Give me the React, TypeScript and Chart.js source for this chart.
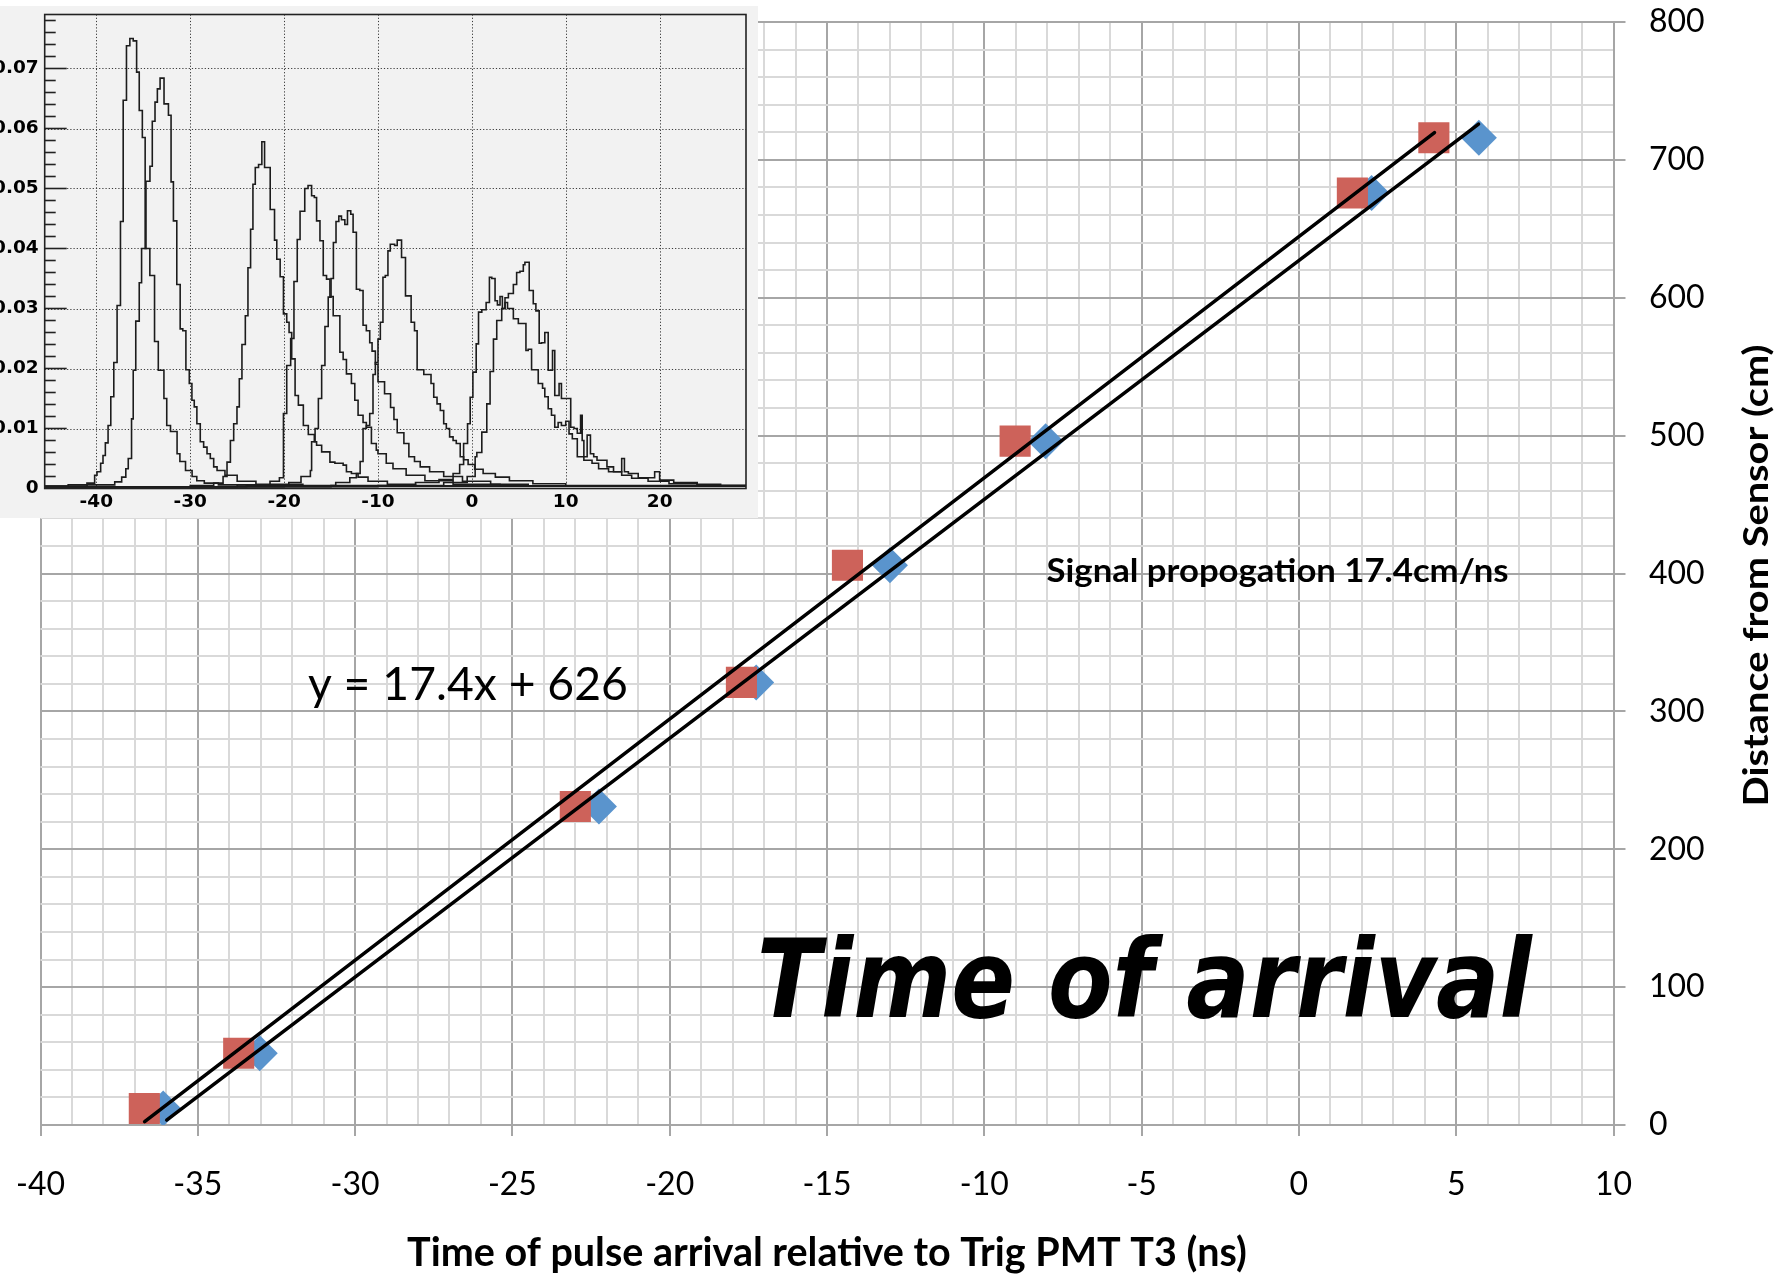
import React, { useEffect, useRef } from 'react';
import { Chart, registerables } from 'chart.js';

Chart.register(...registerables);

// ---------------- main chart data ----------------
const distanceCm = [12, 52, 231, 321, 406, 496, 676, 716];
const redTimesNs = [-36.7, -33.7, -23.0, -17.72, -14.35, -9.02, 1.7, 4.29];
const blueTimesNs = [-36.1, -33.03, -22.25, -17.25, -13.0, -8.05, 2.31, 5.72];
const redFitX = [-36.69, 4.31];
const redFitY = [2.4, 719.8];
const blueFitX = [-35.99, 5.71];
const blueFitY = [3.6, 725.9];
const xTickLabels = [-40, -35, -30, -25, -20, -15, -10, -5, 0, 5, 10];
const yTickLabels = [0, 100, 200, 300, 400, 500, 600, 700, 800];
const xTitle = 'Time of pulse arrival relative to Trig PMT T3 (ns)';
const yTitle = 'Distance from Sensor (cm)';
const fitLabel = 'y = 17.4x + 626';
const speedLabel = 'Signal propogation 17.4cm/ns';
const bigLabel = 'Time of arrival';

// ---------------- inset histogram data: [left bin edge (ns), content] ----------------
const insetXTickLabels = [-40, -30, -20, -10, 0, 10, 20];
const insetYTickLabels = [0, 0.01, 0.02, 0.03, 0.04, 0.05, 0.06, 0.07];

const histA: [number, number][] = [[-45.5,0.0004],[-43.0,0.0006],[-41.0,0.0009],[-40.18,0.0022],[-39.93,0.0028],[-39.54,0.0042],[-39.29,0.0055],[-39.04,0.0076],[-38.75,0.0105],[-38.46,0.0153],[-38.14,0.021],[-37.79,0.0305],[-37.43,0.0445],[-37.14,0.0647],[-36.79,0.0738],[-36.43,0.075],[-36.07,0.0746],[-35.71,0.0694],[-35.43,0.063],[-35.1,0.0585],[-34.8,0.04],[-34.3,0.0355],[-33.8,0.0245],[-33.4,0.0197],[-32.8,0.015],[-32.5,0.0105],[-32.1,0.0095],[-31.4,0.0058],[-31.1,0.0045],[-30.5,0.003],[-29.8,0.002],[-29.3,0.0013],[-28.5,0.0009],[-27.0,0.0006],[-24.0,0.0004],[29.2,0.0004]];
const histB: [number, number][] = [[-45.5,0.0004],[-41.0,0.0006],[-38.04,0.0011],[-37.3,0.0019],[-36.86,0.0033],[-36.6,0.005],[-36.25,0.0116],[-36.07,0.0197],[-35.8,0.0279],[-35.43,0.0343],[-35.18,0.04],[-34.71,0.0512],[-34.29,0.0537],[-34.04,0.0612],[-33.75,0.0644],[-33.5,0.0666],[-33.21,0.0684],[-32.79,0.0641],[-32.32,0.0622],[-32.04,0.0511],[-31.79,0.0446],[-31.43,0.034],[-31.07,0.0266],[-30.79,0.0263],[-30.46,0.0198],[-30.1,0.0175],[-29.82,0.0147],[-29.57,0.0136],[-29.29,0.0108],[-28.93,0.0078],[-28.57,0.0069],[-28.21,0.0058],[-27.86,0.005],[-27.5,0.0036],[-27.14,0.003],[-26.3,0.0022],[-25.0,0.0012],[-23.0,0.0007],[-18.0,0.0004],[29.2,0.0004]];
const histC: [number, number][] = [[-45.5,0.0003],[-30.0,0.0005],[-27.5,0.0009],[-26.5,0.002],[-26.08,0.0044],[-25.72,0.008],[-25.37,0.0108],[-25.02,0.0136],[-24.77,0.0183],[-24.49,0.024],[-24.13,0.0288],[-23.85,0.0368],[-23.57,0.0432],[-23.32,0.0507],[-23.07,0.0535],[-22.72,0.054],[-22.37,0.0578],[-22.08,0.0535],[-21.48,0.0465],[-21.02,0.0414],[-20.78,0.0382],[-20.42,0.0353],[-20.07,0.0291],[-19.72,0.0277],[-19.47,0.026],[-19.19,0.0216],[-18.83,0.0155],[-18.48,0.0139],[-17.95,0.0105],[-17.42,0.009],[-16.78,0.0078],[-16.54,0.0072],[-16.0,0.0061],[-15.12,0.0044],[-14.59,0.0042],[-13.71,0.0039],[-13.36,0.0028],[-12.83,0.0025],[-12.12,0.0019],[-11.06,0.0012],[-9.0,0.0007],[-6.0,0.0004],[29.2,0.0004]];
const histD: [number, number][] = [[-45.5,0.0003],[-25.0,0.0006],[-21.5,0.0012],[-20.5,0.0018],[-20.07,0.0125],[-19.72,0.0205],[-19.3,0.025],[-18.95,0.0345],[-18.6,0.0415],[-18.3,0.0462],[-17.8,0.05],[-17.45,0.0505],[-17.07,0.0488],[-16.78,0.0485],[-16.54,0.0446],[-16.18,0.0413],[-15.83,0.0355],[-15.48,0.0349],[-15.12,0.032],[-14.77,0.0288],[-14.06,0.0227],[-13.71,0.0215],[-13.36,0.0191],[-12.83,0.0175],[-12.47,0.0147],[-12.12,0.0122],[-11.59,0.011],[-11.24,0.0102],[-10.7,0.0075],[-10.18,0.0064],[-10.0,0.0058],[-9.12,0.0042],[-8.4,0.0033],[-7.0,0.0022],[-5.0,0.0013],[-2.0,0.0007],[3.0,0.0004],[29.2,0.0004]];
const histE: [number, number][] = [[-45.5,0.0003],[-24.0,0.0005],[-19.5,0.001],[-18.2,0.002],[-17.2,0.003],[-17.07,0.0078],[-16.7,0.01],[-16.35,0.015],[-16.0,0.0205],[-15.65,0.027],[-15.3,0.0319],[-15.0,0.035],[-14.75,0.041],[-14.47,0.0445],[-14.17,0.0454],[-13.89,0.0448],[-13.53,0.044],[-13.25,0.0463],[-12.9,0.0457],[-12.65,0.0427],[-12.3,0.0332],[-11.94,0.033],[-11.59,0.0272],[-11.24,0.0263],[-10.88,0.0243],[-10.63,0.0229],[-10.28,0.0207],[-10.0,0.0178],[-9.3,0.0158],[-8.66,0.0135],[-8.3,0.0115],[-7.95,0.0093],[-7.24,0.0075],[-6.71,0.0053],[-6.11,0.0045],[-5.5,0.0036],[-4.5,0.0028],[-3.0,0.002],[-1.0,0.0012],[2.0,0.0007],[6.0,0.0004],[29.2,0.0004]];
const histF: [number, number][] = [[-45.5,0.0003],[-20.0,0.0005],[-14.5,0.001],[-13.0,0.0018],[-12.3,0.0025],[-11.9,0.0045],[-11.59,0.01],[-11.24,0.0105],[-10.88,0.0125],[-10.53,0.019],[-10.28,0.021],[-10.0,0.0249],[-9.75,0.0277],[-9.47,0.0352],[-9.22,0.0355],[-8.94,0.0396],[-8.69,0.0407],[-8.23,0.0405],[-7.95,0.0414],[-7.49,0.0385],[-7.07,0.0321],[-6.47,0.0277],[-6.11,0.0263],[-5.83,0.0198],[-5.12,0.019],[-4.35,0.0175],[-4.06,0.0152],[-3.71,0.0141],[-3.36,0.013],[-3.0,0.0108],[-2.72,0.01],[-2.37,0.0086],[-2.0,0.008],[-1.66,0.0075],[-1.24,0.0053],[-0.88,0.0048],[-0.4,0.004],[0.3,0.0032],[1.2,0.0025],[2.5,0.0019],[4.0,0.0013],[6.5,0.0008],[10.0,0.0005],[29.2,0.0005]];
const histG: [number, number][] = [[-45.5,0.0003],[-15.0,0.0005],[-6.0,0.001],[-3.5,0.0015],[-2.0,0.0025],[-1.3,0.004],[-0.88,0.0075],[-0.46,0.0108],[-0.18,0.0152],[0.11,0.0194],[0.46,0.0241],[0.71,0.0294],[1.06,0.0298],[1.52,0.031],[1.87,0.0352],[2.12,0.035],[2.47,0.0313],[2.72,0.0306],[3.0,0.032],[3.25,0.03],[3.53,0.031],[3.8,0.03],[4.42,0.0283],[4.95,0.0275],[5.19,0.0275],[5.76,0.023],[6.0,0.0232],[6.36,0.0198],[6.61,0.0198],[7.07,0.0175],[7.53,0.0167],[7.77,0.0153],[8.13,0.0133],[8.48,0.0122],[8.83,0.0102],[9.19,0.011],[9.54,0.0105],[10.0,0.0112],[10.35,0.0091],[10.7,0.0083],[11.23,0.0053],[11.93,0.0047],[12.8,0.0042],[13.5,0.0033],[14.56,0.0028],[15.96,0.0022],[17.02,0.0017],[18.77,0.0012],[21.0,0.0008],[24.0,0.0005],[29.2,0.0005]];
const histH: [number, number][] = [[-45.5,0.0003],[-10.0,0.0005],[-3.0,0.001],[-0.5,0.002],[0.35,0.0053],[0.53,0.006],[1.06,0.0094],[1.59,0.0141],[1.94,0.0195],[2.3,0.0249],[2.65,0.028],[3.18,0.03],[3.53,0.0318],[3.89,0.0325],[4.42,0.034],[4.77,0.036],[5.12,0.0362],[5.48,0.0373],[5.65,0.0377],[6.11,0.033],[6.54,0.0308],[6.82,0.0296],[7.17,0.0242],[7.42,0.0243],[7.77,0.026],[8.13,0.0197],[8.59,0.023],[8.83,0.0155],[9.29,0.0175],[9.54,0.015],[10.0,0.015],[10.53,0.0102],[10.88,0.01],[11.23,0.0092],[11.58,0.0122],[11.75,0.008],[11.93,0.0053],[12.28,0.0089],[12.63,0.0058],[12.98,0.0053],[13.33,0.0047],[14.39,0.0036],[15.09,0.0028],[15.96,0.005],[16.25,0.0028],[16.67,0.0025],[17.72,0.0018],[19.47,0.0028],[20.0,0.0014],[21.5,0.001],[24.0,0.0007],[26.5,0.0005],[29.2,0.0005]];
const histograms = [histA, histB, histC, histD, histE, histF, histG, histH];

// ---------------- styles ----------------
const RED = 'rgb(205, 98, 90)';
const BLUE = 'rgb(90, 148, 205)';
const MAJOR_GRID = '#a6a6a6';
const MINOR_GRID = '#d9d9d9';
const LATO = 'Lato, "Open Sans", sans-serif';
const INSET_FONT = '"DejaVu Sans", sans-serif';

function isMultiple(v: number, step: number) {
  const r = v / step;
  return Math.abs(r - Math.round(r)) < 1e-6;
}

function drawFitted(ctx: CanvasRenderingContext2D, text: string, x: number, yBase: number, font: string, width: number) {
  ctx.save();
  ctx.font = font;
  ctx.textAlign = 'left';
  ctx.textBaseline = 'alphabetic';
  const w = ctx.measureText(text).width;
  ctx.translate(x, yBase);
  ctx.scale(width / w, 1);
  ctx.fillText(text, 0, 0);
  ctx.restore();
}

const annotationPlugin = {
  id: 'annotationTexts',
  afterDraw(chart: any) {
    const { ctx, scales, chartArea } = chart;
    const xs = scales.x;
    const ys = scales.y;
    ctx.save();
    ctx.fillStyle = '#000';
    drawFitted(ctx, fitLabel, xs.getPixelForValue(-31.5), ys.getPixelForValue(308), `46px ${LATO}`, 320);
    drawFitted(ctx, speedLabel, xs.getPixelForValue(-8.02), ys.getPixelForValue(393.7), `bold 33px ${LATO}`, 462);
    drawFitted(ctx, bigLabel, xs.getPixelForValue(-17.23), ys.getPixelForValue(78.3), 'italic bold 108px "DejaVu Sans", sans-serif', 775);
    // rotated y-axis title (reads bottom to top)
    ctx.save();
    ctx.font = `bold 34px ${LATO}`;
    const w = ctx.measureText(yTitle).width;
    ctx.translate(chartArea.right + 143.5, (chartArea.top + chartArea.bottom) / 2 + 2);
    ctx.rotate(-Math.PI / 2);
    ctx.scale(462 / w, 1);
    ctx.textAlign = 'center';
    ctx.textBaseline = 'middle';
    ctx.fillText(yTitle, 0, 0);
    ctx.restore();
    ctx.restore();
  },
};

const insetPlugin = {
  id: 'insetFrame',
  beforeDraw(chart: any) {
    const { ctx, width, height } = chart;
    ctx.save();
    ctx.fillStyle = '#f2f2f2';
    ctx.fillRect(0, 0, width, height);
    ctx.restore();
  },
  beforeDatasetsDraw(chart: any) {
    const { ctx, chartArea: a, scales } = chart;
    const xs = scales.x;
    const ys = scales.y;
    ctx.save();
    ctx.strokeStyle = '#3a3a3a';
    ctx.lineWidth = 1;
    ctx.setLineDash([1.2, 2]);
    insetXTickLabels.forEach((v) => {
      const px = Math.round(xs.getPixelForValue(v)) + 0.5;
      ctx.beginPath();
      ctx.moveTo(px, a.top);
      ctx.lineTo(px, a.bottom);
      ctx.stroke();
    });
    insetYTickLabels.forEach((v) => {
      if (v === 0) return;
      const py = Math.round(ys.getPixelForValue(v)) + 0.5;
      ctx.beginPath();
      ctx.moveTo(a.left, py);
      ctx.lineTo(a.right, py);
      ctx.stroke();
    });
    ctx.setLineDash([]);
    ctx.strokeStyle = '#222';
    ctx.lineWidth = 1.6;
    for (let k = 1; k * 0.002 < ys.max; k++) {
      const py = ys.getPixelForValue(k * 0.002);
      const len = k % 5 === 0 ? 22 : 11;
      ctx.beginPath();
      ctx.moveTo(a.left, py);
      ctx.lineTo(a.left + len, py);
      ctx.stroke();
    }
    ctx.restore();
  },
  afterDatasetsDraw(chart: any) {
    const { ctx, chartArea: a } = chart;
    ctx.save();
    ctx.strokeStyle = '#222';
    ctx.lineWidth = 1.6;
    ctx.strokeRect(a.left, a.top, a.right - a.left, a.bottom - a.top);
    ctx.restore();
  },
};

export default function App() {
  const mainRef = useRef<HTMLCanvasElement>(null);
  const insetRef = useRef<HTMLCanvasElement>(null);

  useEffect(() => {
    const gridColor = (ctx: any) => (isMultiple(ctx.tick.value, ctx.scale.axis === 'x' ? 5 : 100) ? MAJOR_GRID : MINOR_GRID);
    const tickColor = (ctx: any) => (isMultiple(ctx.tick.value, ctx.scale.axis === 'x' ? 5 : 100) ? MAJOR_GRID : 'rgba(0,0,0,0)');

    const main = new Chart(mainRef.current as HTMLCanvasElement, {
      type: 'scatter',
      data: {
        datasets: [
          {
            label: 'fit 1',
            data: redFitX.map((x, i) => ({ x, y: redFitY[i] })),
            showLine: true,
            borderColor: '#000',
            borderWidth: 3.5,
            borderCapStyle: 'round',
            pointRadius: 0,
          },
          {
            label: 'fit 2',
            data: blueFitX.map((x, i) => ({ x, y: blueFitY[i] })),
            showLine: true,
            borderColor: '#000',
            borderWidth: 3.5,
            borderCapStyle: 'round',
            pointRadius: 0,
          },
          {
            label: 'series 2',
            data: redTimesNs.map((x, i) => ({ x, y: distanceCm[i] })),
            pointStyle: 'rect',
            pointRadius: 22,
            backgroundColor: RED,
            borderColor: RED,
            borderWidth: 0,
          },
          {
            label: 'series 1',
            data: blueTimesNs.map((x, i) => ({ x, y: distanceCm[i] })),
            pointStyle: 'rectRot',
            pointRadius: 18,
            backgroundColor: BLUE,
            borderColor: BLUE,
            borderWidth: 0,
          },
        ],
      },
      options: {
        animation: false,
        responsive: false,
        maintainAspectRatio: false,
        devicePixelRatio: 1,
        events: [],
        layout: { padding: { left: 40.5, top: 21, right: 0, bottom: 0 } },
        plugins: { legend: { display: false }, tooltip: { enabled: false } },
        scales: {
          x: {
            type: 'linear',
            position: 'bottom',
            min: -40,
            max: 10,
            ticks: {
              stepSize: 1,
              autoSkip: false,
              maxRotation: 0,
              minRotation: 0,
              padding: 29,
              color: '#000',
              font: { family: LATO, size: 32 },
              callback: (v: any) => (xTickLabels.includes(Number(v)) ? String(v) : ''),
            },
            grid: { color: gridColor, lineWidth: 2, tickLength: 11, tickColor, tickWidth: 2 },
            border: { display: true, color: MAJOR_GRID, width: 2 },
            title: {
              display: true,
              text: xTitle,
              color: '#000',
              font: { family: LATO, size: 39.5, weight: 'bold' },
              padding: { top: 0, bottom: 6 },
            },
            afterFit: (s: any) => {
              s.height = 158;
              s.paddingLeft = 0;
              s.paddingRight = 0;
            },
          },
          y: {
            type: 'linear',
            position: 'right',
            min: 0,
            max: 800,
            ticks: {
              stepSize: 20,
              autoSkip: false,
              padding: 23.5,
              color: '#000',
              font: { family: LATO, size: 32 },
              callback: (v: any) => (yTickLabels.includes(Number(v)) ? String(v) : ''),
            },
            grid: { color: gridColor, lineWidth: 2, tickLength: 12, tickColor, tickWidth: 2 },
            border: { display: true, color: MAJOR_GRID, width: 2 },
            afterFit: (s: any) => {
              s.width = 173.5;
              s.paddingTop = 0;
              s.paddingBottom = 0;
            },
          },
        },
      } as any,
      plugins: [annotationPlugin],
    });

    const inset = new Chart(insetRef.current as HTMLCanvasElement, {
      type: 'scatter',
      data: {
        datasets: histograms.map((h, i) => ({
          label: `h${i}`,
          data: h.map(([x, y]) => ({ x, y })),
          showLine: true,
          stepped: 'before',
          borderColor: '#1c1c1c',
          borderWidth: 1.6,
          pointRadius: 0,
          fill: false,
        })),
      },
      options: {
        animation: false,
        responsive: false,
        maintainAspectRatio: false,
        devicePixelRatio: 1,
        events: [],
        layout: { padding: { left: 0, top: 8.5, right: 12, bottom: 0 } },
        plugins: { legend: { display: false }, tooltip: { enabled: false } },
        scales: {
          x: {
            type: 'linear',
            min: -45.5,
            max: 29.2,
            ticks: {
              stepSize: 10,
              includeBounds: false,
              autoSkip: false,
              maxRotation: 0,
              padding: 3,
              color: '#000',
              font: { family: INSET_FONT, size: 18.5, weight: 'bold' },
              callback: (v: any) => (insetXTickLabels.includes(Number(v)) ? String(v) : ''),
            },
            grid: { display: false, drawTicks: false },
            border: { display: false },
            afterFit: (s: any) => {
              s.height = 29.5;
              s.paddingLeft = 0;
              s.paddingRight = 0;
            },
          },
          y: {
            type: 'linear',
            min: 0,
            max: 0.079,
            ticks: {
              stepSize: 0.01,
              includeBounds: false,
              autoSkip: false,
              padding: 6,
              color: '#000',
              font: { family: INSET_FONT, size: 18.5, weight: 'bold' },
              callback: (v: any) => {
                const n = Number(v);
                if (!isMultiple(n, 0.01)) return '';
                const k = Math.round(n * 100);
                return k === 0 ? '0' : (k / 100).toFixed(2);
              },
            },
            grid: { display: false, drawTicks: false },
            border: { display: false },
            afterFit: (s: any) => {
              s.width = 44.7;
              s.paddingTop = 0;
              s.paddingBottom = 0;
            },
          },
        },
      } as any,
      plugins: [insetPlugin],
    });

    return () => {
      main.destroy();
      inset.destroy();
    };
  }, []);

  return (
    <div style={{ position: 'absolute', left: 0, top: 0, width: 1787, height: 1283, background: '#fff', overflow: 'hidden' }}>
      <canvas ref={mainRef} width={1787} height={1283} style={{ position: 'absolute', left: 0, top: 0, width: 1787, height: 1283 }} />
      <canvas ref={insetRef} width={758} height={512} style={{ position: 'absolute', left: 0, top: 6, width: 758, height: 512 }} />
    </div>
  );
}
